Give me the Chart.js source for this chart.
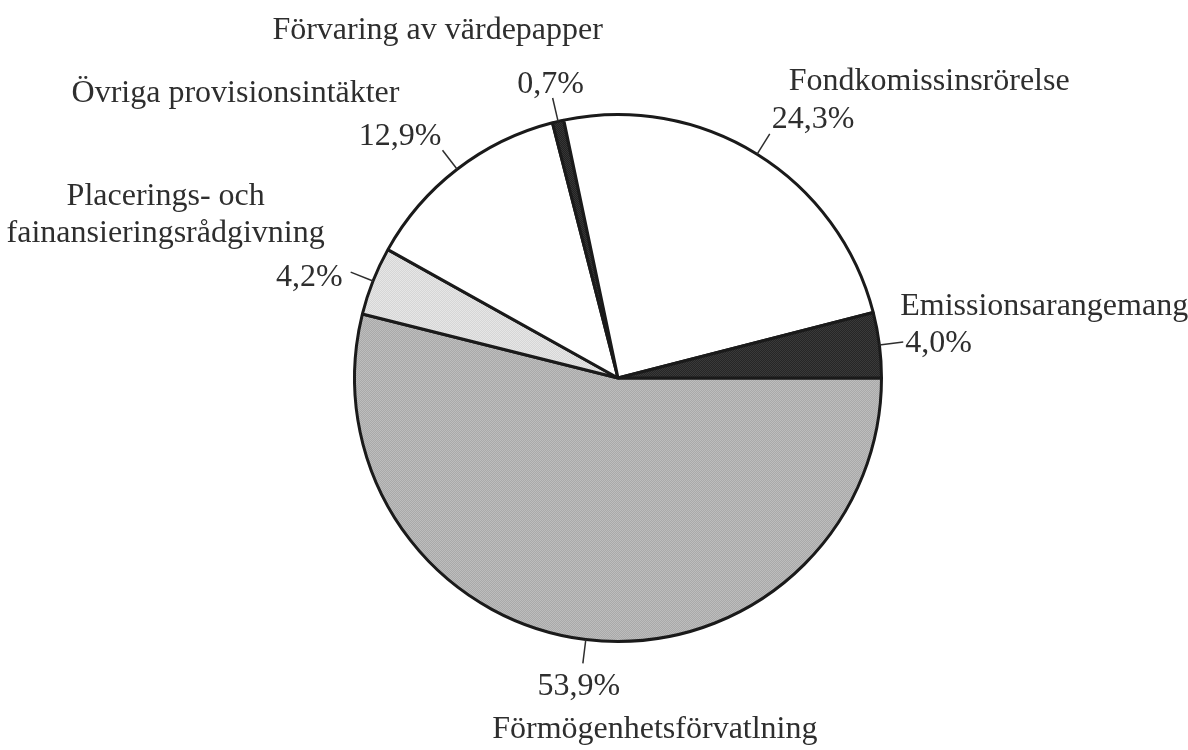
<!DOCTYPE html>
<html lang="sv">
<head>
<meta charset="utf-8">
<title>Provisionsintäkter</title>
<script src="https://cdn.jsdelivr.net/npm/chart.js@4/dist/chart.umd.min.js"></script>
<style>
  html, body { margin: 0; padding: 0; background: #fff; }
  #wrap { position: relative; width: 1188px; height: 750px; }
</style>
</head>
<body>
<div id="wrap"><canvas id="chart"></canvas></div>
<script>
// slices in clockwise order, starting at 3 o'clock
const categories = [
  "Förmögenhetsförvatlning",
  ["Placerings- och", "fainansieringsrådgivning"],
  "Övriga provisionsintäkter",
  "Förvaring av värdepapper",
  "Fondkomissinsrörelse",
  "Emissionsarangemang",
];
const shares = [53.9, 4.2, 12.9, 0.7, 24.3, 4.0];

const INK = "#2e2e2e";
const FONT = "32px 'Liberation Serif', 'Times New Roman', serif";
const LEADER = 24;

// small checker tile, gives the screened grey fills
function screen(a, b) {
  const c = document.createElement("canvas");
  c.width = c.height = 2;
  const g = c.getContext("2d");
  g.fillStyle = a;
  g.fillRect(0, 0, 2, 2);
  g.fillStyle = b;
  g.fillRect(0, 0, 1, 1);
  g.fillRect(1, 1, 1, 1);
  return g.createPattern(c, "repeat");
}

const sliceColors = [
  screen("#a9a9a9", "#bdbdbd"),
  screen("#d6d6d6", "#e6e6e6"),
  "#ffffff",
  screen("#222222", "#363636"),
  "#ffffff",
  screen("#262626", "#3a3a3a"),
];

// text offsets from the end of each leader line (baseline coordinates)
const calloutLayout = [
  { pct: [-4, 32, "center"], name: [72, 75, "center"] },
  { pct: [-8, 14, "right"], name: [-185, -67, "center"], lineGap: 37 },
  { pct: [-1, -5, "right"], name: [-207, -48, "center"] },
  { pct: [-2, -5, "center"], name: [-115, -59, "center"] },
  { pct: [2, -6, "left"], name: [19, -44, "left"] },
  { pct: [2, 10, "left"], name: [-3, -27, "left"] },
];

function pctText(v) {
  return v.toFixed(1).replace(".", ",") + "%";
}

const calloutPlugin = {
  id: "callouts",
  afterDatasetsDraw(chart) {
    const ctx = chart.ctx;
    const meta = chart.getDatasetMeta(0);
    ctx.save();
    ctx.font = FONT;
    ctx.fillStyle = INK;
    ctx.strokeStyle = INK;
    ctx.lineWidth = 1.5;
    ctx.textBaseline = "alphabetic";
    meta.data.forEach((arc, i) => {
      const p = arc.getProps(["x", "y", "startAngle", "endAngle", "outerRadius"], true);
      const mid = (p.startAngle + p.endAngle) / 2;
      const ax = p.x + Math.cos(mid) * p.outerRadius;
      const ay = p.y + Math.sin(mid) * p.outerRadius;
      const ex = ax + Math.cos(mid) * LEADER;
      const ey = ay + Math.sin(mid) * LEADER;
      ctx.beginPath();
      ctx.moveTo(ax, ay);
      ctx.lineTo(ex, ey);
      ctx.stroke();

      const lay = calloutLayout[i];
      ctx.textAlign = lay.pct[2];
      ctx.fillText(pctText(shares[i]), ex + lay.pct[0], ey + lay.pct[1]);

      const name = [].concat(categories[i]);
      ctx.textAlign = lay.name[2];
      name.forEach((line, k) => {
        ctx.fillText(line, ex + lay.name[0], ey + lay.name[1] + k * (lay.lineGap || 0));
      });
    });
    ctx.restore();
  },
};

new Chart(document.getElementById("chart"), {
  type: "pie",
  data: {
    labels: categories,
    datasets: [{
      data: shares,
      backgroundColor: sliceColors,
      borderColor: "#1a1a1a",
      borderWidth: 3,
    }],
  },
  options: {
    responsive: true,
    maintainAspectRatio: false,
    animation: false,
    rotation: 90,
    layout: { padding: { top: 113, bottom: 107, left: 100, right: 52 } },
    plugins: {
      legend: { display: false },
      tooltip: { enabled: false },
    },
  },
  plugins: [calloutPlugin],
});
</script>
</body>
</html>
